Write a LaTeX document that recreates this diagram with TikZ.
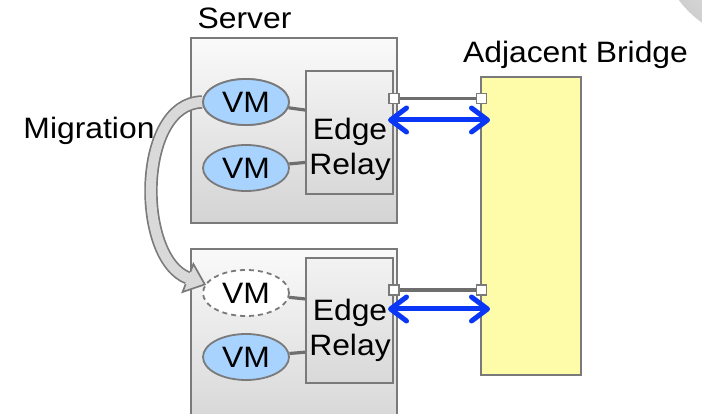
\documentclass[tikz,border=0pt]{standalone}
\usepackage{fontspec}
\setmainfont{Liberation Sans}[FakeStretch=1.08]
\usetikzlibrary{arrows.meta,calc,shapes.geometric}

\definecolor{frame}{HTML}{7A7A7A}
\definecolor{vmblue}{HTML}{A9D3FF}
\definecolor{bridgeyellow}{HTML}{FFFCA9}
\definecolor{linkblue}{HTML}{0A36F5}
\definecolor{wiregray}{HTML}{6E6E6E}
\newcommand\lbl{\fontsize{29.5}{35}\selectfont}

\tikzset{
  server/.style={draw=frame, line width=2pt, top color=black!2, bottom color=black!17,
    minimum width=206pt, inner sep=0pt},
  relay/.style={draw=frame, line width=1.8pt, top color=black!5, bottom color=black!15,
    minimum width=87pt, inner sep=0pt},
  vm/.style={ellipse, draw=frame, line width=1.8pt, fill=vmblue,
    minimum width=86pt, minimum height=46pt, inner sep=0pt, font=\lbl},
  ghostvm/.style={vm, fill=white, dash pattern=on 5pt off 4pt},
  vmwire/.style={draw=wiregray, line width=3.2pt},
  port/.style={draw=frame, fill=white, line width=1.4pt, minimum size=10pt, inner sep=0pt},
  bridgebox/.style={draw=frame, fill=bridgeyellow, line width=1.5pt,
    minimum width=100pt, minimum height=298pt, inner sep=0pt},
  link/.style={draw=linkblue, line width=5pt,
    {Straight Barb[length=16pt,width=24pt,round]}-{Straight Barb[length=16pt,width=24pt,round]}},
  label/.style={font=\lbl, inner sep=0pt},
  relaytext/.style={font=\lbl, align=center, inner sep=0pt},
  migshaft/.style={draw=frame, line width=1.7pt, double=black!15, double distance=10pt},
  mighead/.style={draw=frame, fill=black!15, line width=1.7pt, line join=miter},
}

\begin{document}
\begin{tikzpicture}[x=1pt, y=-1pt]
  \path[use as bounding box, clip] (0,0) rectangle (702,414);

  % corner ornament
  \shade[inner color=black!6, outer color=black!19] (760,-60) circle [radius=101pt];

  % servers and their edge relays
  \node[server, minimum height=185pt] (srv1) at (294,130.5) {};
  \node[server, minimum height=191pt] (srv2) at (294,344.5) {};
  \node[relay, minimum height=123pt] (edge1) at (349.5,132.5) {};
  \node[relay, minimum height=125pt] (edge2) at (349.5,320.5) {};
  \node[relaytext] (edge1t) at (350,149) {Edge\\Relay};
  \node[relaytext] (edge2t) at (350,330) {Edge\\Relay};

  % virtual machines
  \node[vm] (vm1) at (246,102) {VM};
  \node[vm] (vm2) at (246,168) {VM};
  \node[ghostvm] (vm3) at (246,293) {VM};
  \node[vm] (vm4) at (246,357) {VM};

  % migration arrow from the upper server to the lower one
  \coordinate (migbase) at (188,278);
  \coordinate (migtip) at (204.8,284.4);
  \coordinate (migw1) at (182.6,292);
  \coordinate (migw2) at (193.4,264);
  \coordinate (migs1) at (185.6,284.2);
  \coordinate (migs2) at (190.4,271.8);
  \draw[migshaft] (vm1.west) .. controls (137,103) and (136,258) .. (migbase);
  \fill[black!15] (migw1) -- (migtip) -- (migw2) -- cycle;
  \draw[mighead] (migs1) -- (migw1) -- (migtip) -- (migw2) -- (migs2);
  % redraw the source VM over the arrow tail
  \node[vm] at (vm1) {VM};

  % VM to relay wiring
  \draw[vmwire] (vm1) -- ($(edge1.north west)!0.32!(edge1.south west)$);
  \draw[vmwire] (vm2) -- ($(edge1.north west)!0.74!(edge1.south west)$);
  \draw[vmwire] (vm3) -- ($(edge2.north west)!0.33!(edge2.south west)$);
  \draw[vmwire] (vm4) -- ($(edge2.north west)!0.75!(edge2.south west)$);

  % adjacent bridge
  \node[bridgebox] (bridge) at (531,226) {};

  % ports and the physical links
  \node[port] (p1a) at (394,98.5) {};
  \node[port] (p1b) at (481.5,98.5) {};
  \node[port] (p2a) at (394,290) {};
  \node[port] (p2b) at (481.5,290) {};
  \draw[vmwire] (p1a) -- (p1b);
  \draw[vmwire] (p2a) -- (p2b);

  % logical links between relay and bridge
  \coordinate (l1a) at (388,120);
  \coordinate (l1b) at (490,120);
  \coordinate (l2a) at (388,309);
  \coordinate (l2b) at (490,309);
  \draw[link] (l1a) -- (l1b);
  \draw[link] (l2a) -- (l2b);

  % captions
  \node[label, anchor=base] (srvlbl) at (244.5,29) {Server};
  \node[label, anchor=base] (brlbl) at (575.5,63) {Adjacent Bridge};
  \node[label, anchor=base] (miglbl) at (89,139) {Migration};
\end{tikzpicture}
\end{document}
